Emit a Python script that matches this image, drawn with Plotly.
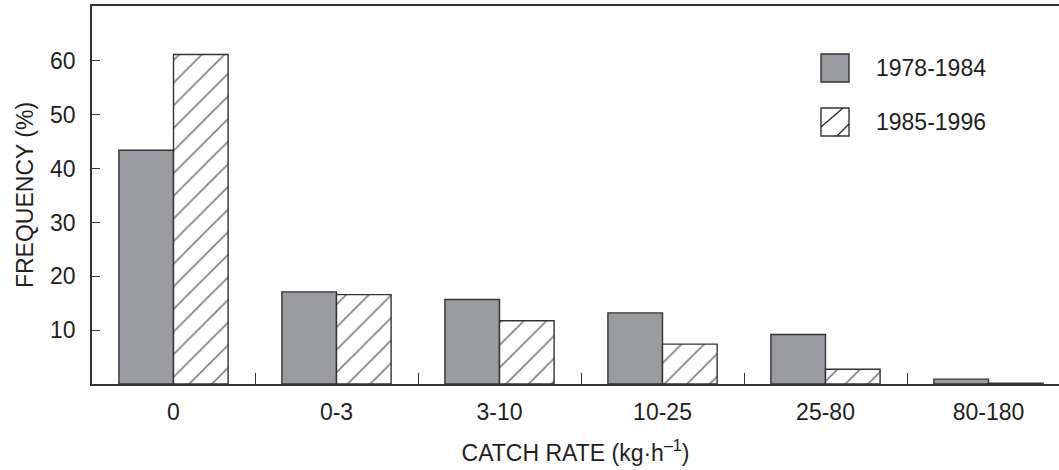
import plotly.graph_objects as go

# Catch-rate classes and frequency (%) per period
categories = ["0", "0-3", "3-10", "10-25", "25-80", "80-180"]
freq_1978_1984 = [43.4, 17.1, 15.7, 13.2, 9.2, 0.9]
freq_1985_1996 = [61.2, 16.6, 11.75, 7.4, 2.75, 0.15]
y_ticks = [10, 20, 30, 40, 50, 60]
series_names = ["1978-1984", "1985-1996"]

W, H = 1059, 470
ML, MT, MB, MR = 92, 6, 86, 0
INK = "#231f20"
GREY = "#9a9b9f"
FONT = "Liberation Sans, Arial, Helvetica, sans-serif"
FS = 23

fig = go.Figure()
fig.add_trace(go.Bar(
    x=categories, y=freq_1978_1984, name=series_names[0],
    marker=dict(color=GREY, line=dict(color="#333333", width=1.4)),
    showlegend=False,
))
fig.add_trace(go.Bar(
    x=categories, y=freq_1985_1996, name=series_names[1],
    marker=dict(color="white", line=dict(color="#333333", width=1.4),
                pattern=dict(shape="/", size=16, solidity=0.1,
                             fgcolor="#000000", bgcolor="white")),
    showlegend=False,
))

# Legend drawn by hand (large swatches)
pw, ph = W - ML - MR, H - MT - MB


def px(x):
    return (x - ML) / pw


def py(y):
    return (H - MB - y) / ph


sw = 28
legend_rows = [(821, 54), (821, 108)]
shapes = []
annotations = []
for i, (lx, ly) in enumerate(legend_rows):
    fill = GREY if i == 0 else "white"
    shapes.append(dict(type="rect", xref="paper", yref="paper",
                       x0=px(lx), x1=px(lx + sw), y0=py(ly + sw), y1=py(ly),
                       fillcolor=fill, line=dict(color="#333333", width=1.4)))
    if i == 1:
        segs = [((lx, ly + 19), (lx + 22, ly)), ((lx + 16, ly + sw), (lx + sw, ly + 16))]
        for (x0, y0), (x1, y1) in segs:
            shapes.append(dict(type="line", xref="paper", yref="paper",
                               x0=px(x0), y0=py(y0), x1=px(x1), y1=py(y1),
                               line=dict(color="#222222", width=1.2)))
    annotations.append(dict(xref="paper", yref="paper", x=px(874), y=py(ly + sw / 2),
                            text=series_names[i], showarrow=False, xanchor="left",
                            yanchor="middle", font=dict(size=FS, color=INK, family=FONT)))

fig.update_layout(
    width=W, height=H,
    margin=dict(l=ML, r=MR, t=MT, b=MB),
    paper_bgcolor="white", plot_bgcolor="white",
    barmode="group", bargap=0.33, bargroupgap=0,
    font=dict(family=FONT, size=FS, color=INK),
    shapes=shapes, annotations=annotations,
    xaxis=dict(
        range=[-0.5, -0.5 + (W - ML - MR) / 163.0],
        showline=True, linecolor="#333333", linewidth=1.8, mirror=True,
        ticks="inside", tickson="boundaries", ticklen=11, tickcolor="#333333", tickwidth=1.3,
        showgrid=False, zeroline=False, ticklabelstandoff=6,
        title=dict(text="CATCH RATE (kg·h<sup>–1</sup>)", standoff=21,
                   font=dict(size=FS, color=INK, family=FONT)),
        tickfont=dict(size=FS, color=INK, family=FONT),
    ),
    yaxis=dict(
        range=[0, 70.2], tickvals=y_ticks,
        showline=True, linecolor="#333333", linewidth=1.8, mirror=False,
        ticks="inside", ticklen=8, tickcolor="#333333", tickwidth=1.3,
        showgrid=False, zeroline=False, ticklabelstandoff=10,
        title=dict(text="FREQUENCY (%)", standoff=10,
                   font=dict(size=FS, color=INK, family=FONT)),
        tickfont=dict(size=FS, color=INK, family=FONT),
    ),
)

fig.write_html("out.html")
